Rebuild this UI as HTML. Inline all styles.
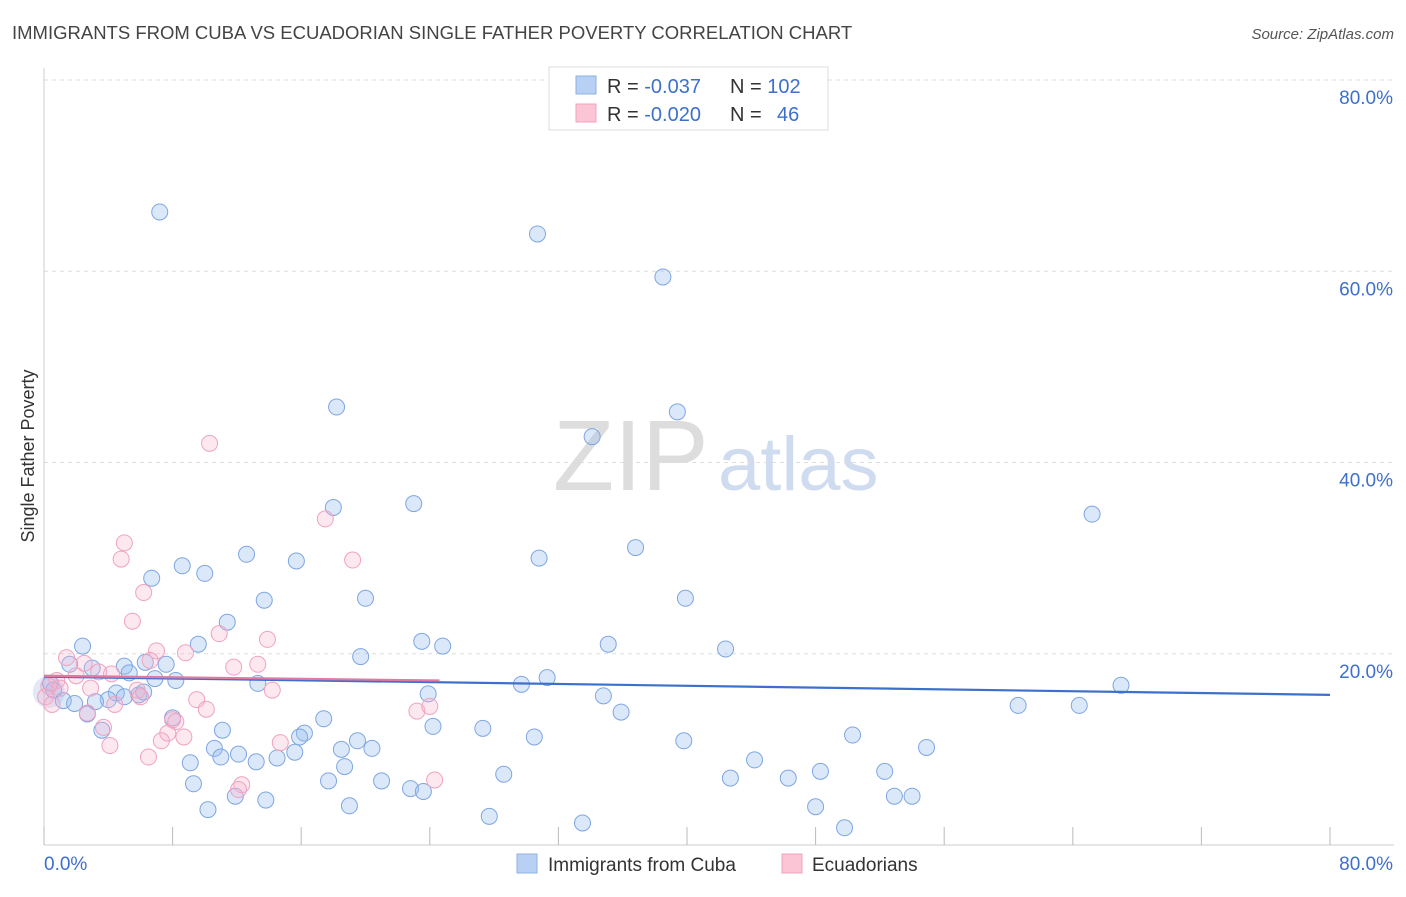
<!DOCTYPE html>
<html><head><meta charset="utf-8"><style>
body{margin:0;background:#fff;font-family:"Liberation Sans",sans-serif;}
svg text{font-family:"Liberation Sans",sans-serif;}
</style></head><body>
<svg id="chart" width="1406" height="892" viewBox="0 0 1406 892">
<text x="12" y="39" font-size="18.5" fill="#444">IMMIGRANTS FROM CUBA VS ECUADORIAN SINGLE FATHER POVERTY CORRELATION CHART</text>
<text x="1394" y="39" font-size="15" fill="#555" text-anchor="end" font-style="italic">Source: ZipAtlas.com</text>
<text x="34" y="456" font-size="18" fill="#333" text-anchor="middle" transform="rotate(-90 34 456)">Single Father Poverty</text>
<text x="553" y="490" font-size="100" fill="#ddd" font-family="Liberation Serif">ZIP</text>
<text x="718" y="490" font-size="76" fill="#cfdcf0">atlas</text>
<g id="grid"></g><g id="pts"></g><g id="lines"></g>
<g>
<rect x="549" y="67" width="279" height="63" fill="#fff" stroke="#ddd"/>
<rect x="576" y="76" width="20" height="18" fill="#b7d0f3" stroke="#8fb1e6"/>
<rect x="576" y="104" width="20" height="18" fill="#fbc5d6" stroke="#f1a3bd"/>
<text x="607" y="93" font-size="20" fill="#333">R = <tspan fill="#3d70cc">-0.037</tspan><tspan x="730">N = </tspan><tspan fill="#3d70cc">102</tspan></text>
<text x="607" y="121" font-size="20" fill="#333">R = <tspan fill="#3d70cc">-0.020</tspan><tspan x="730">N = </tspan><tspan x="777" fill="#3d70cc">46</tspan></text>
</g>
<g>
<rect x="517" y="854" width="20" height="19" fill="#b7d0f3" stroke="#8fb1e6"/>
<text x="548" y="871" font-size="19" fill="#333">Immigrants from Cuba</text>
<rect x="782" y="854" width="20" height="19" fill="#fbc5d6" stroke="#f1a3bd"/>
<text x="812" y="871" font-size="19" fill="#333">Ecuadorians</text>
</g>
</svg>
<script>
const yTicks=[20,40,60,80];
const yTickLabels=["20.0%","40.0%","60.0%","80.0%"];
const xTicks=[0,8,16,24,32,40,48,56,64,72,80];
const cubaX=[7.2,30.7,38.5,18.2,39.4,34.1,65.2,18.0,23.0,12.6,15.7,30.8,36.8,8.6,10.0,6.7,20.0,13.7,39.9,11.4,23.5,24.8,35.1,42.4,2.4,9.6,19.7,1.6,5.0,7.6,6.3,3.0,5.3,8.2,6.9,13.3,29.7,31.3,67.0,0.4,0.6,4.5,5.9,5.0,6.2,4.0,3.2,1.2,1.9,23.9,34.8,60.6,64.4,2.7,8.0,35.9,17.4,3.6,11.1,24.2,27.3,16.2,15.9,19.5,10.6,18.5,20.4,30.5,39.8,50.3,54.9,12.1,15.6,11.0,14.5,13.2,9.1,18.7,44.2,28.6,42.7,46.3,48.3,52.3,17.7,21.0,9.3,22.8,23.6,11.9,13.8,19.0,10.2,48.0,52.9,54.0,27.7,33.5,49.8];
const cubaY=[66.2,63.9,59.4,45.8,45.3,42.7,34.6,35.3,35.7,30.4,29.7,30.0,31.1,29.2,28.4,27.9,25.8,25.6,25.8,23.3,21.3,20.8,21.0,20.5,20.8,21.0,19.7,18.9,18.7,18.9,19.1,18.5,18.0,17.2,17.4,16.9,16.8,17.5,16.7,16.9,16.2,15.9,15.7,15.5,16.0,15.2,15.0,15.1,14.8,15.8,15.6,14.6,14.6,13.7,13.3,13.9,13.2,12.0,12.0,12.4,12.2,11.7,11.3,10.9,10.1,10.0,10.1,11.3,10.9,11.5,10.2,9.5,9.7,9.2,9.1,8.7,8.6,8.2,8.9,7.4,7.0,7.0,7.7,7.7,6.7,6.7,6.4,5.9,5.6,5.1,4.7,4.1,3.7,4.0,5.1,5.1,3.0,2.3,1.8];
const ecuX=[10.3,17.5,5.0,19.2,4.8,6.2,5.5,10.9,13.9,7.0,8.8,6.6,1.4,2.5,13.3,11.8,3.4,4.2,2.0,0.8,0.3,14.2,2.9,5.8,9.5,4.4,10.1,23.2,24.0,2.7,8.0,8.2,3.7,7.7,8.7,7.3,14.7,4.1,6.5,12.3,12.1,24.3,0.1,0.5,6.0,1.0];
const ecuY=[42.0,34.1,31.6,29.8,29.9,26.4,23.4,22.1,21.5,20.3,20.1,19.3,19.6,19.0,18.9,18.6,18.1,17.9,17.7,17.2,16.6,16.2,16.4,16.2,15.2,14.7,14.2,14.0,14.5,13.8,13.1,12.9,12.3,11.7,11.3,10.9,10.7,10.4,9.2,6.3,5.8,6.8,15.5,14.7,15.5,16.4];
const cubaTrendX=[0,80], cubaTrendY=[17.6,15.7];
const ecuTrendX=[0,24.6], ecuTrendY=[17.7,17.2];
const NS="http://www.w3.org/2000/svg";
function sx(v){return 44+v*16.075;}
function sy(v){return 845-v*9.5625;}
function mk(tag,attrs,parent){const e=document.createElementNS(NS,tag);for(const k in attrs)e.setAttribute(k,attrs[k]);parent.appendChild(e);return e;}
const grid=document.getElementById('grid'),pts=document.getElementById('pts'),lines=document.getElementById('lines');
yTicks.forEach((t,i)=>{
 const l=mk('line',{x1:44,x2:1394,y1:sy(t),y2:sy(t),stroke:'#ddd','stroke-dasharray':'4,4'},grid);
 
 
 const tx=mk('text',{x:1393,y:sy(t)+24,'font-size':19,fill:'#3d70cc','text-anchor':'end'},grid);
 tx.textContent=yTickLabels[i];
 
 
});
const ax=mk('line',{x1:44,x2:44,y1:68,y2:845,stroke:'#ccc'},grid);


const bx=mk('line',{x1:44,x2:1394,y1:845,y2:845,stroke:'#ccc'},grid);


xTicks.forEach(t=>{
 const l=mk('line',{x1:sx(t),x2:sx(t),y1:827,y2:845,stroke:'#bbb'},grid);
 
 
});
const xl0=mk('text',{x:44,y:870,'font-size':19,fill:'#3d70cc'},grid);xl0.textContent='0.0%';


const xl1=mk('text',{x:1393,y:870,'font-size':19,fill:'#3d70cc','text-anchor':'end'},grid);xl1.textContent='80.0%';


const blob=mk('circle',{cx:sx(0.3),cy:sy(16),r:16,fill:'rgba(160,180,230,0.3)'},pts);


cubaX.forEach((x,i)=>{
 const c=mk('circle',{cx:sx(x),cy:sy(cubaY[i]),r:8,fill:'rgba(150,188,238,0.35)',stroke:'#7ea6e2','stroke-width':1},pts);
 
 
});
ecuX.forEach((x,i)=>{
 const c=mk('circle',{cx:sx(x),cy:sy(ecuY[i]),r:8,fill:'rgba(247,178,204,0.3)',stroke:'#f0a2bf','stroke-width':1},pts);
 
 
});
const t1=mk('line',{x1:sx(cubaTrendX[0]),y1:sy(cubaTrendY[0]),x2:sx(cubaTrendX[1]),y2:sy(cubaTrendY[1]),stroke:'#3d70cc','stroke-width':2.2},lines);


const t2=mk('line',{x1:sx(ecuTrendX[0]),y1:sy(ecuTrendY[0]),x2:sx(ecuTrendX[1]),y2:sy(ecuTrendY[1]),stroke:'#e07aa0','stroke-width':2.2},lines);


</script>
</body></html>
